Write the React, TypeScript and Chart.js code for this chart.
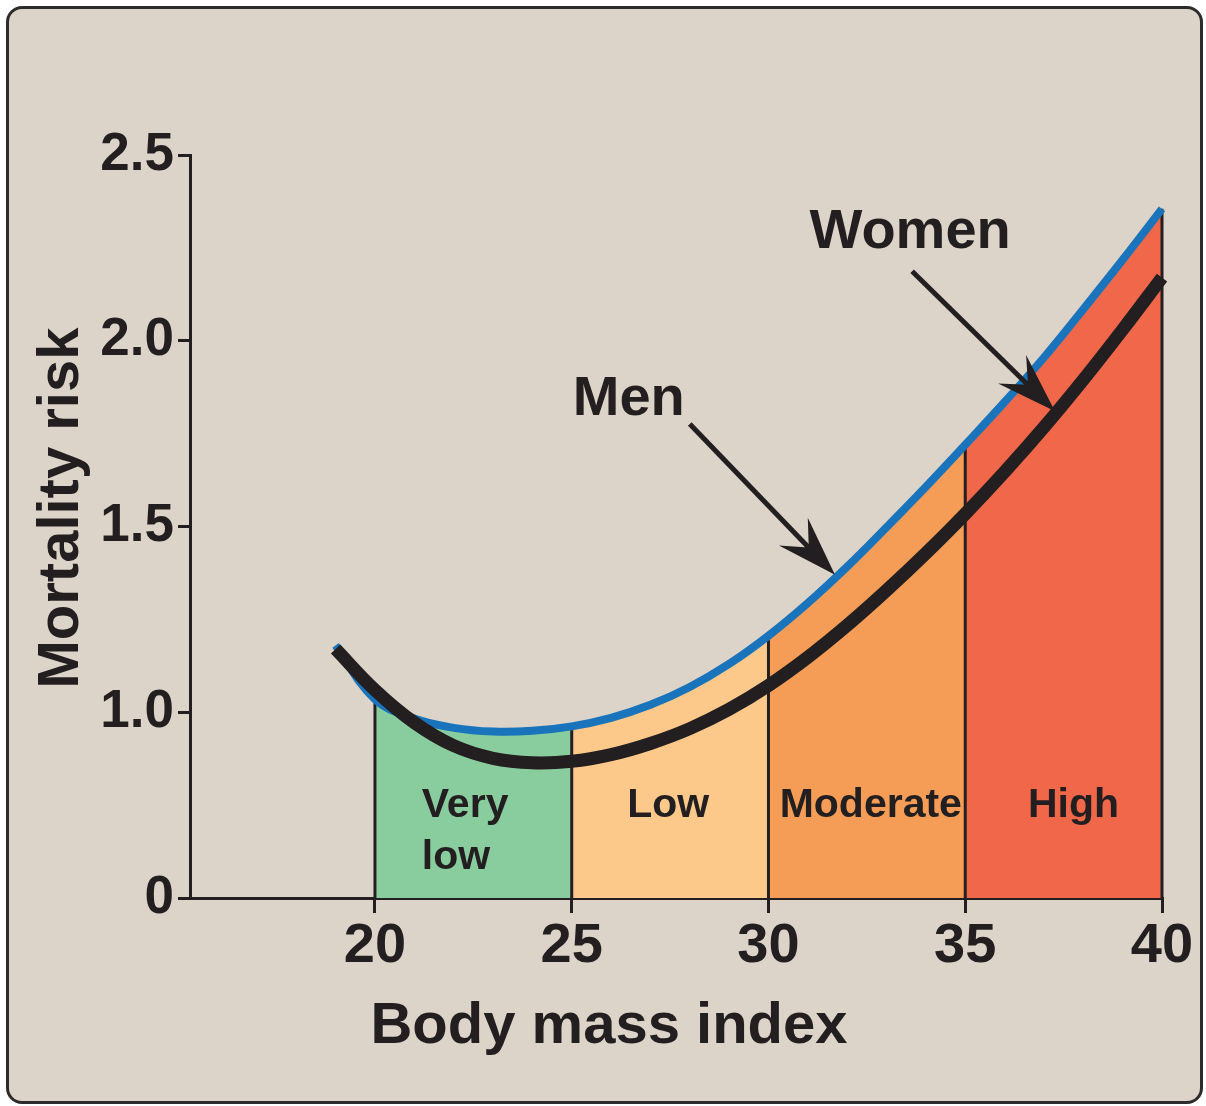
import React, { useEffect, useRef } from 'react';
import { Chart, registerables } from 'chart.js';

Chart.register(...registerables);

const FONT = '"Liberation Sans", Arial, Helvetica, sans-serif';
const INK = '#231f20';

// ---- data ----
const bmiValues = [19, 20, 21, 22, 23, 24, 25, 26, 27, 28, 29, 30, 31, 32, 33, 34, 35, 36, 37, 38, 39, 40];
const menRisk = [1.18, 1.035, 0.983, 0.958, 0.948, 0.95, 0.962, 0.985, 1.02, 1.068, 1.13, 1.206, 1.294, 1.392, 1.498, 1.607, 1.72, 1.835, 1.955, 2.085, 2.218, 2.355];
const womenRisk = [1.17, 1.06, 0.972, 0.91, 0.876, 0.864, 0.868, 0.886, 0.916, 0.956, 1.008, 1.072, 1.148, 1.234, 1.328, 1.428, 1.534, 1.647, 1.767, 1.895, 2.03, 2.17];

const zoneEdges = [20, 25, 30, 35, 40];
const zoneNameLines = [['Very', 'low'], ['Low'], ['Moderate'], ['High']];
const zoneColors = ['#89cd9f', '#fcc98b', '#f59d56', '#f0674a'];
const zoneLabelX = [21.19, 27.45, 32.6, 37.75];
const zoneLabelY = [0.717, 0.717, 0.717, 0.717];
const zoneLabelAlign = ['left', 'center', 'center', 'center'];

const xTickValues = [20, 25, 30, 35, 40];
const yTickValues = [0.5, 1.0, 1.5, 2.0, 2.5];
const yTickLabels = ['0', '1.0', '1.5', '2.0', '2.5'];

const annotationLabels = ['Men', 'Women'];
const annotationTextX = [26.45, 33.6];
const annotationTextY = [1.8, 2.25];
const arrowFromX = [28.0, 33.65];
const arrowFromY = [1.776, 2.187];
const arrowToX = [31.69, 37.28];
const arrowToY = [1.37, 1.81];

const xAxisTitle = 'Body mass index';
const yAxisTitle = 'Mortality risk';

const X_MIN = 15.3;
const X_MAX = 40;
const Y_MIN = 0.5;
const Y_MAX = 2.5;

function riskAt(series: number[], bmi: number): number {
  return series[bmiValues.indexOf(bmi)];
}

function zoneColorFor(x: number): string {
  for (let i = 0; i < zoneEdges.length - 1; i++) {
    if (x >= zoneEdges[i] && x < zoneEdges[i + 1]) return zoneColors[i];
  }
  return 'rgba(0,0,0,0)';
}

function drawArrow(ctx: CanvasRenderingContext2D, x0: number, y0: number, x1: number, y1: number) {
  const dx = x1 - x0;
  const dy = y1 - y0;
  const len = Math.hypot(dx, dy);
  const ux = dx / len;
  const uy = dy / len;
  const nx = -uy;
  const ny = ux;
  const L = 60;
  const W = 20;
  const notch = 0.63 * L;
  const nxp = x1 - ux * notch;
  const nyp = y1 - uy * notch;
  ctx.save();
  ctx.strokeStyle = INK;
  ctx.fillStyle = INK;
  ctx.lineWidth = 5;
  ctx.lineCap = 'butt';
  ctx.beginPath();
  ctx.moveTo(x0, y0);
  ctx.lineTo(nxp + ux * 4, nyp + uy * 4);
  ctx.stroke();
  ctx.beginPath();
  ctx.moveTo(x1, y1);
  ctx.lineTo(x1 - ux * L + nx * W, y1 - uy * L + ny * W);
  ctx.lineTo(nxp, nyp);
  ctx.lineTo(x1 - ux * L - nx * W, y1 - uy * L - ny * W);
  ctx.closePath();
  ctx.fill();
  ctx.restore();
}

const decorPlugin = {
  id: 'decor',
  afterDatasetsDraw(chart: any) {
    const { ctx, chartArea } = chart;
    const xs = chart.scales.x;
    const ys = chart.scales.y;
    ctx.save();
    ctx.fillStyle = INK;
    ctx.textBaseline = 'alphabetic';

    // zone labels
    ctx.font = `bold 41px ${FONT}`;
    zoneNameLines.forEach((lines, i) => {
      ctx.textAlign = zoneLabelAlign[i] as CanvasTextAlign;
      const px = xs.getPixelForValue(zoneLabelX[i]);
      const py = ys.getPixelForValue(zoneLabelY[i]);
      lines.forEach((line, j) => ctx.fillText(line, px, py + j * 52));
    });

    // annotations
    ctx.textAlign = 'center';
    ctx.font = `bold 56px ${FONT}`;
    annotationLabels.forEach((label, i) => {
      ctx.fillText(label, xs.getPixelForValue(annotationTextX[i]), ys.getPixelForValue(annotationTextY[i]));
      drawArrow(
        ctx,
        xs.getPixelForValue(arrowFromX[i]),
        ys.getPixelForValue(arrowFromY[i]),
        xs.getPixelForValue(arrowToX[i]),
        ys.getPixelForValue(arrowToY[i])
      );
    });

    // axis titles
    ctx.font = `bold 58px ${FONT}`;
    ctx.textAlign = 'center';
    ctx.fillText(xAxisTitle, chartArea.left + 419, chartArea.bottom + 145);
    ctx.save();
    ctx.translate(chartArea.left - 112, chartArea.top + 353);
    ctx.rotate(-Math.PI / 2);
    ctx.font = `bold 58px ${FONT}`;
    ctx.fillText(yAxisTitle, 0, 0);
    ctx.restore();

    ctx.restore();
  },
};

export default function App() {
  const canvasRef = useRef<HTMLCanvasElement | null>(null);

  useEffect(() => {
    const canvas = canvasRef.current;
    if (!canvas) return;

    const menPoints = bmiValues.map((x, i) => ({ x, y: menRisk[i] }));
    const womenPoints = bmiValues.map((x, i) => ({ x, y: womenRisk[i] }));

    const dividerSets = zoneEdges.map((edge) => ({
      label: `edge-${edge}`,
      data: [
        { x: edge, y: Y_MIN },
        { x: edge, y: riskAt(menRisk, edge) },
      ],
      borderColor: INK,
      borderWidth: 3,
      pointRadius: 0,
      fill: false,
      tension: 0,
      order: 2,
      clip: false as any,
    }));

    const chart = new Chart(canvas, {
      type: 'line',
      data: {
        datasets: [
          {
            label: 'Women',
            data: womenPoints,
            borderColor: INK,
            borderWidth: 13,
            pointRadius: 0,
            fill: false,
            tension: 0.4,
            order: 0,
            clip: false as any,
          },
          {
            label: 'Men',
            data: menPoints,
            borderColor: '#1a74bb',
            borderWidth: 8,
            pointRadius: 0,
            fill: false,
            tension: 0.4,
            order: 1,
            clip: false as any,
          },
          ...dividerSets,
          {
            label: 'zones',
            data: menPoints,
            borderWidth: 0,
            borderColor: 'rgba(0,0,0,0)',
            backgroundColor: 'rgba(0,0,0,0)',
            pointRadius: 0,
            fill: 'start',
            tension: 0.4,
            order: 3,
            segment: {
              backgroundColor: (c: any) => zoneColorFor(c.p0.parsed.x),
            },
          } as any,
        ],
      },
      options: {
        responsive: false,
        animation: false,
        devicePixelRatio: 1,
        layout: { padding: { left: 0, right: 44, top: 155, bottom: 0 } },
        plugins: {
          legend: { display: false },
          tooltip: { enabled: false },
        },
        scales: {
          x: {
            type: 'linear',
            min: X_MIN,
            max: X_MAX,
            afterBuildTicks: (scale: any) => {
              scale.ticks = xTickValues.map((v) => ({ value: v }));
            },
            afterFit: (scale: any) => {
              scale.height = 208;
            },
            ticks: {
              color: INK,
              font: { family: FONT, size: 56, weight: 'bold' },
              padding: 0,
              maxRotation: 0,
              autoSkip: false,
              callback: (v: any) => String(v),
            },
            grid: { drawOnChartArea: false, drawTicks: true, tickLength: 15, color: INK, lineWidth: 3 },
            border: { display: true, color: INK, width: 3 },
          },
          y: {
            type: 'linear',
            min: Y_MIN,
            max: Y_MAX,
            afterBuildTicks: (scale: any) => {
              scale.ticks = yTickValues.map((v) => ({ value: v }));
            },
            afterFit: (scale: any) => {
              scale.width = 190;
            },
            ticks: {
              color: INK,
              font: { family: FONT, size: 53, weight: 'bold' },
              padding: 4,
              autoSkip: false,
              callback: (v: any) => {
                const idx = yTickValues.indexOf(Number(v));
                return idx >= 0 ? yTickLabels[idx] : '';
              },
            },
            grid: { drawOnChartArea: false, drawTicks: true, tickLength: 12, color: INK, lineWidth: 3 },
            border: { display: true, color: INK, width: 3 },
          },
        },
      },
      plugins: [decorPlugin],
    } as any);

    return () => chart.destroy();
  }, []);

  return (
    <div style={{ position: 'absolute', left: 0, top: 0, width: 1206, height: 1106, background: '#ffffff' }}>
      <div
        style={{
          position: 'absolute',
          left: 6,
          top: 6,
          width: 1197,
          height: 1098,
          boxSizing: 'border-box',
          border: '3px solid #2e2b2b',
          borderRadius: 16,
          background: '#ddd4c9',
        }}
      />
      <canvas
        ref={canvasRef}
        width={1206}
        height={1106}
        style={{ position: 'absolute', left: 0, top: 0, width: 1206, height: 1106 }}
      />
    </div>
  );
}
